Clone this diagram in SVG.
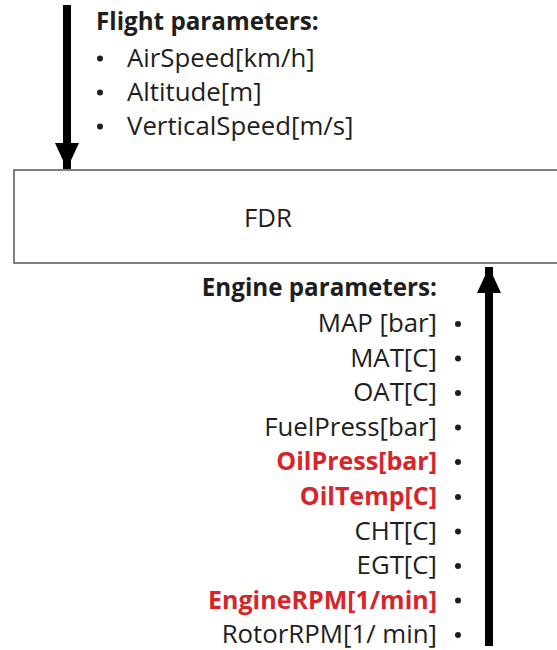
<svg xmlns="http://www.w3.org/2000/svg" width="557" height="650" viewBox="0 0 557 650">
<style>
text{font-family:"Open Sans",Lato,"Liberation Sans",sans-serif;font-size:25.8px;fill:#1e1e1e}
.b{font-weight:bold;font-size:24.2px}
.r{fill:#d7252b;font-weight:bold;font-size:25px}
.e{text-anchor:end}
.d{fill:#1e1e1e}
</style>
<defs>
<marker id="ah" viewBox="0 0 26 24" refX="26" refY="12" markerWidth="26" markerHeight="24" markerUnits="userSpaceOnUse" orient="auto">
<path d="M0,0 L26,12 L0,24 Z" fill="#000"/>
</marker>
</defs>
<rect width="557" height="650" fill="#fff"/>
<g id="connectors">
<line x1="67" y1="5" x2="67" y2="169" stroke="#000" stroke-width="8" marker-end="url(#ah)"/>
<line x1="489" y1="646" x2="489" y2="267" stroke="#000" stroke-width="8" marker-end="url(#ah)"/>
</g>
<g id="fdr">
<rect x="14" y="170" width="550" height="93" fill="#fff" stroke="#555" stroke-width="1.5"/>
<text x="268" y="227" text-anchor="middle">FDR</text>
</g>
<g id="flight">
<text class="b" x="96" y="30">Flight parameters:</text>
<circle class="d" cx="100" cy="58.5" r="3"/><text x="127" y="67">AirSpeed[km/h]</text>
<circle class="d" cx="100" cy="92.5" r="3"/><text x="127" y="101">Altitude[m]</text>
<circle class="d" cx="100" cy="126.5" r="3"/><text x="127" y="135">VerticalSpeed[m/s]</text>
</g>
<g id="engine">
<text class="b e" x="437" y="296">Engine parameters:</text>
<text class="e" x="437" y="332">MAP [bar]</text>
<text class="e" x="437" y="366.5">MAT[C]</text>
<text class="e" x="437" y="401">OAT[C]</text>
<text class="e" x="437" y="435.5">FuelPress[bar]</text>
<text class="e r" x="437" y="470">OilPress[bar]</text>
<text class="e r" x="437" y="505">OilTemp[C]</text>
<text class="e" x="437" y="539.5">CHT[C]</text>
<text class="e" x="437" y="574">EGT[C]</text>
<text class="e r" x="437" y="608.5">EngineRPM[1/min]</text>
<text class="e" x="437" y="643">RotorRPM[1/ min]</text>
<circle class="d" cx="458" cy="324" r="3"/>
<circle class="d" cx="458" cy="358.5" r="3"/>
<circle class="d" cx="458" cy="393" r="3"/>
<circle class="d" cx="458" cy="427.5" r="3"/>
<circle class="d" cx="458" cy="462" r="3"/>
<circle class="d" cx="458" cy="497" r="3"/>
<circle class="d" cx="458" cy="531.5" r="3"/>
<circle class="d" cx="458" cy="566" r="3"/>
<circle class="d" cx="458" cy="600.5" r="3"/>
<circle class="d" cx="458" cy="635" r="3"/>
</g>
</svg>
